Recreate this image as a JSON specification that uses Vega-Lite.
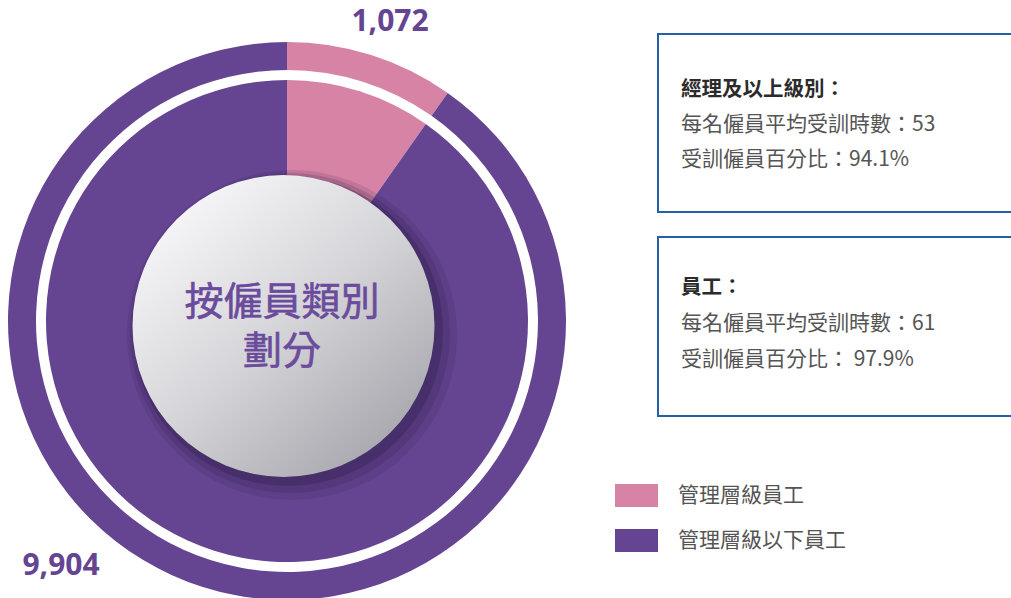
{
  "$schema": "https://vega.github.io/schema/vega-lite/v6.json",
  "width": 1011,
  "height": 598,
  "autosize": {"type": "none"},
  "padding": 0,
  "background": "white",
  "config": {"view": {"stroke": null}},
  "datasets": {
    "staff": [
      {"category": "管理層級員工", "count": 1072},
      {"category": "管理層級以下員工", "count": 9904}
    ],
    "center": [{"title": "按僱員類別\n劃分"}],
    "boxes": [
      {"group": "經理及以上級別", "heading": "經理及以上級別：", "body": "每名僱員平均受訓時數：53\n受訓僱員百分比：94.1%"},
      {"group": "員工", "heading": "員工：", "body": "每名僱員平均受訓時數：61\n受訓僱員百分比： 97.9%"}
    ]
  },
  "layer": [
    {
      "data": {"name": "staff"},
      "mark": {"type": "arc", "radius": 279, "radius2": 251, "stroke": null},
      "encoding": {
        "x": {"datum": 287, "type": "quantitative", "scale": {"domain": [0, 1011], "nice": false, "zero": false}, "axis": null},
        "y": {"datum": 321, "type": "quantitative", "scale": {"domain": [0, 598], "nice": false, "zero": false, "reverse": true}, "axis": null},
        "theta": {"field": "count", "type": "quantitative", "stack": true},
        "order": {"field": "count", "sort": "ascending"},
        "color": {
          "field": "category", "type": "nominal",
          "scale": {"domain": ["管理層級員工", "管理層級以下員工"], "range": ["#d783a5", "#654592"]},
          "legend": {
            "orient": "none", "legendX": 615, "legendY": 474, "title": null,
            "padding": 0, "symbolType": "M-1,-0.535H1V0.535H-1Z", "symbolSize": 1849,
            "symbolStrokeWidth": 0, "symbolOpacity": 1, "labelFont": "Noto Sans CJK TC", "labelFontSize": 21,
            "labelColor": "#555555", "labelOffset": 20, "rowPadding": 11, "labelLimit": 400
          }
        }
      }
    },
    {
      "data": {"name": "staff"},
      "mark": {"type": "arc", "radius": 241, "radius2": 0, "stroke": null},
      "encoding": {
        "x": {"datum": 287, "type": "quantitative"},
        "y": {"datum": 321, "type": "quantitative"},
        "theta": {"field": "count", "type": "quantitative", "stack": true},
        "order": {"field": "count", "sort": "ascending"},
        "color": {"field": "category", "type": "nominal"}
      }
    },
    {
      "data": {"name": "center"},
      "mark": {"type": "arc", "radius": 165, "theta": 0, "theta2": 6.2832, "fill": "#2a1a45", "fillOpacity": 0.12},
      "encoding": {"x": {"datum": 292, "type": "quantitative"}, "y": {"datum": 335, "type": "quantitative"}}
    },
    {
      "data": {"name": "center"},
      "mark": {"type": "arc", "radius": 160, "theta": 0, "theta2": 6.2832, "fill": "#2a1a45", "fillOpacity": 0.18},
      "encoding": {"x": {"datum": 290, "type": "quantitative"}, "y": {"datum": 333, "type": "quantitative"}}
    },
    {
      "data": {"name": "center"},
      "mark": {"type": "arc", "radius": 155, "theta": 0, "theta2": 6.2832, "fill": "#2a1a45", "fillOpacity": 0.3},
      "encoding": {"x": {"datum": 288, "type": "quantitative"}, "y": {"datum": 331, "type": "quantitative"}}
    },
    {
      "data": {"name": "center"},
      "mark": {
        "type": "arc", "radius": 151, "theta": 0, "theta2": 6.2832,
        "fill": {"gradient": "linear", "x1": 0.15, "y1": 0.1, "x2": 0.85, "y2": 0.9,
          "stops": [{"offset": 0, "color": "#f6f5f7"}, {"offset": 0.5, "color": "#d5d4d8"}, {"offset": 1, "color": "#a9a8ae"}]}
      },
      "encoding": {"x": {"datum": 283.5, "type": "quantitative"}, "y": {"datum": 326, "type": "quantitative"}}
    },
    {
      "data": {"name": "center"},
      "mark": {"type": "text", "font": "Noto Sans CJK TC", "fontSize": 39, "fontWeight": "normal", "color": "#6a4b9c", "stroke": "#6a4b9c", "strokeWidth": 0.6, "align": "center", "baseline": "middle", "lineBreak": "\n", "lineHeight": 49},
      "encoding": {
        "x": {"datum": 282, "type": "quantitative"},
        "y": {"datum": 303, "type": "quantitative"},
        "text": {"field": "title"}
      }
    },
    {
      "data": {"name": "staff"},
      "transform": [{"filter": "datum.count === 1072"}],
      "mark": {"type": "text", "font": "Open Sans", "fontSize": 30, "fontWeight": "bold", "color": "#654592", "align": "center", "baseline": "middle"},
      "encoding": {
        "x": {"datum": 390, "type": "quantitative"},
        "y": {"datum": 22, "type": "quantitative"},
        "text": {"field": "count", "format": ","}
      }
    },
    {
      "data": {"name": "staff"},
      "transform": [{"filter": "datum.count === 9904"}],
      "mark": {"type": "text", "font": "Open Sans", "fontSize": 30, "fontWeight": "bold", "color": "#654592", "align": "center", "baseline": "middle"},
      "encoding": {
        "x": {"datum": 61, "type": "quantitative"},
        "y": {"datum": 566, "type": "quantitative"},
        "text": {"field": "count", "format": ","}
      }
    },
    {
      "data": {"name": "boxes"},
      "transform": [{"filter": "datum.group === '經理及以上級別'"}],
      "mark": {"type": "rect", "fill": "white", "stroke": "#2360a8", "strokeWidth": 2},
      "encoding": {
        "x": {"datum": 658, "type": "quantitative"}, "x2": {"datum": 1016},
        "y": {"datum": 34, "type": "quantitative"}, "y2": {"datum": 212}
      }
    },
    {
      "data": {"name": "boxes"},
      "transform": [{"filter": "datum.group === '員工'"}],
      "mark": {"type": "rect", "fill": "white", "stroke": "#2360a8", "strokeWidth": 2},
      "encoding": {
        "x": {"datum": 658, "type": "quantitative"}, "x2": {"datum": 1016},
        "y": {"datum": 237, "type": "quantitative"}, "y2": {"datum": 416}
      }
    },
    {
      "data": {"name": "boxes"},
      "transform": [{"filter": "datum.group === '經理及以上級別'"}],
      "mark": {"type": "text", "font": "Noto Sans CJK TC", "fontSize": 20.5, "fontWeight": "bold", "color": "#2b2b2b", "align": "left", "baseline": "middle"},
      "encoding": {
        "x": {"datum": 681, "type": "quantitative"},
        "y": {"datum": 90, "type": "quantitative"},
        "text": {"field": "heading"}
      }
    },
    {
      "data": {"name": "boxes"},
      "transform": [{"filter": "datum.group === '經理及以上級別'"}],
      "mark": {"type": "text", "font": "Noto Sans CJK TC", "fontSize": 21, "color": "#555555", "align": "left", "baseline": "middle", "lineBreak": "\n", "lineHeight": 35},
      "encoding": {
        "x": {"datum": 681, "type": "quantitative"},
        "y": {"datum": 125, "type": "quantitative"},
        "text": {"field": "body"}
      }
    },
    {
      "data": {"name": "boxes"},
      "transform": [{"filter": "datum.group === '員工'"}],
      "mark": {"type": "text", "font": "Noto Sans CJK TC", "fontSize": 20.5, "fontWeight": "bold", "color": "#2b2b2b", "align": "left", "baseline": "middle"},
      "encoding": {
        "x": {"datum": 681, "type": "quantitative"},
        "y": {"datum": 288, "type": "quantitative"},
        "text": {"field": "heading"}
      }
    },
    {
      "data": {"name": "boxes"},
      "transform": [{"filter": "datum.group === '員工'"}],
      "mark": {"type": "text", "font": "Noto Sans CJK TC", "fontSize": 21, "color": "#555555", "align": "left", "baseline": "middle", "lineBreak": "\n", "lineHeight": 36},
      "encoding": {
        "x": {"datum": 681, "type": "quantitative"},
        "y": {"datum": 324, "type": "quantitative"},
        "text": {"field": "body"}
      }
    }
  ]
}
